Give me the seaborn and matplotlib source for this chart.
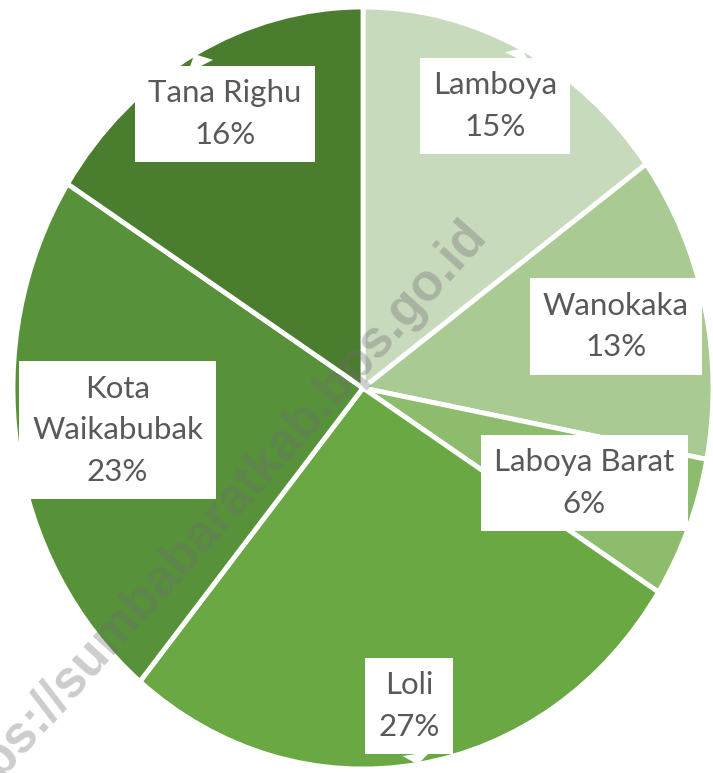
import numpy as np
import matplotlib
matplotlib.use("Agg")
import matplotlib.pyplot as plt
import seaborn as sns

# data (share of district, %)
districts = ["Lamboya", "Wanokaka", "Laboya Barat", "Loli", "Kota\nWaikabubak", "Tana Righu"]
shares = [15, 13, 6, 27, 23, 16]
colors = ["#C8DABC", "#A9CB93", "#8DBD6C", "#6AA843", "#57923A", "#4A7D2E"]

# where each callout box sits (fraction of radius along the wedge middle)
label_r = [0.83, 0.74, 0.68, 0.845, 0.71, 0.82]

sns.set_theme(style="white")
plt.rcParams["font.family"] = ["Lato", "DejaVu Sans"]

fig = plt.figure(figsize=(7.13, 7.73), dpi=100)
ax = fig.add_axes([13 / 713, 4 / 773, 700 / 713, 762 / 773])

wedges, _ = ax.pie(
    shares,
    colors=sns.color_palette(colors),
    startangle=90,
    counterclock=False,
    radius=1,
    wedgeprops=dict(edgecolor="white", linewidth=3.5),
)
ax.set_aspect("auto")
ax.set_xlim(-1, 1)
ax.set_ylim(-1, 1)
ax.axis("off")

# callout labels
for w, name, val, r in zip(wedges, districts, shares, label_r):
    ang = np.deg2rad((w.theta1 + w.theta2) / 2)
    tip = (np.cos(ang), np.sin(ang))
    pos = (r * np.cos(ang), r * np.sin(ang))
    ax.annotate(
        f"{name}\n{val}%",
        xy=tip,
        xytext=pos,
        ha="center",
        va="center",
        fontsize=22.5,
        color="#595959",
        linespacing=1.6,
        bbox=dict(boxstyle="square,pad=0.42", fc="white", ec="none"),
        arrowprops=dict(arrowstyle="wedge,tail_width=0.9,shrink_factor=0.5",
                        fc="white", ec="white", lw=0, shrinkA=0, shrinkB=0),
        annotation_clip=False,
    )

# watermark
fig.text(488 / 713, 1 - 236 / 773, "https://sumbabaratkab.bps.go.id",
         ha="right", va="baseline", rotation=48, rotation_mode="anchor",
         fontsize=37, fontweight="bold", family=["Liberation Sans", "DejaVu Sans"],
         color="#6e6e6e", alpha=0.35)

fig.savefig("out.png", dpi=100, facecolor="white")
